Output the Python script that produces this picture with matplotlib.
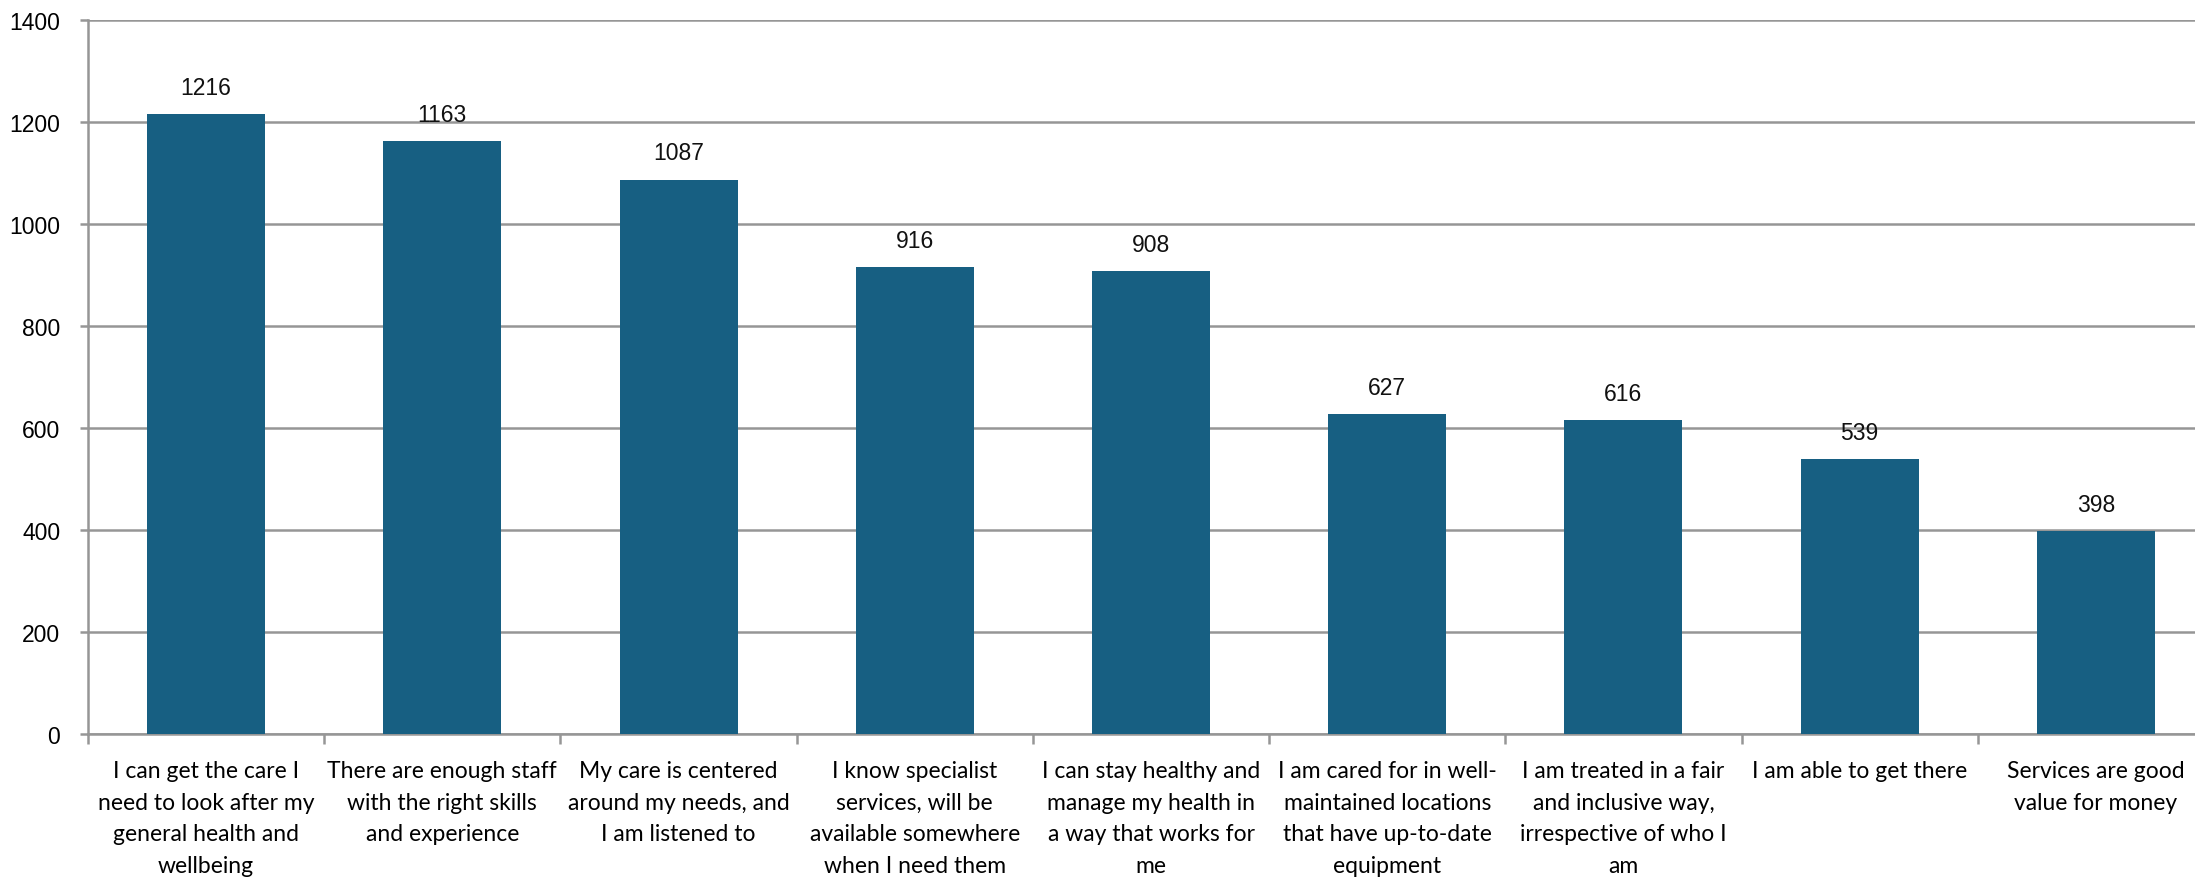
import matplotlib
matplotlib.use("Agg")
import matplotlib.pyplot as plt
import numpy as np

categories = [
    "I can get the care I\nneed to look after my\ngeneral health and\nwellbeing",
    "There are enough staff\nwith the right skills\nand experience",
    "My care is centered\naround my needs, and\nI am listened to",
    "I know specialist\nservices, will be\navailable somewhere\nwhen I need them",
    "I can stay healthy and\nmanage my health in\na way that works for\nme",
    "I am cared for in well-\nmaintained locations\nthat have up-to-date\nequipment",
    "I am treated in a fair\nand inclusive way,\nirrespective of who I\nam",
    "I am able to get there",
    "Services are good\nvalue for money",
]
values = [1216, 1163, 1087, 916, 908, 627, 616, 539, 398]
yticks = [0, 200, 400, 600, 800, 1000, 1200, 1400]

bar_color = "#175F82"
grid_color = "#969696"

fig = plt.figure(figsize=(21.95, 8.78), dpi=100)
ax = fig.add_axes([88/2195, 143/878, (2214-88)/2195, 714/878])

x = np.arange(len(values))
bars = ax.bar(x, values, width=0.5, color=bar_color, zorder=3)

for xi, v in zip(x, values):
    ax.annotate(str(v), (xi, v), xytext=(0, 11), textcoords="offset points",
                ha="center", va="bottom", fontsize=16.5,
                family="Liberation Sans", color="#111111")

ax.set_xlim(-0.5, len(values) - 0.5)
ax.set_ylim(0, 1400)
ax.set_yticks(yticks)
ax.set_yticklabels([str(t) for t in yticks], family="Liberation Sans", fontsize=16.5)
ax.yaxis.grid(True, color=grid_color, linewidth=1.8, zorder=0)
ax.tick_params(axis="y", length=6, width=1.8, color=grid_color, pad=14)

ax.set_xticks(x)
ax.set_xticklabels(categories, family="Lato", fontsize=16.5, linespacing=1.62)
ax.set_xticks(np.arange(len(values) + 1) - 0.5, minor=True)
ax.tick_params(axis="x", which="major", length=0, pad=19)
ax.tick_params(axis="x", which="minor", length=7, width=1.8, color=grid_color)

for s in ["top", "right"]:
    ax.spines[s].set_visible(False)
for s in ["left", "bottom"]:
    ax.spines[s].set_color(grid_color)
    ax.spines[s].set_linewidth(1.8)

fig.savefig("out.png", dpi=100)
